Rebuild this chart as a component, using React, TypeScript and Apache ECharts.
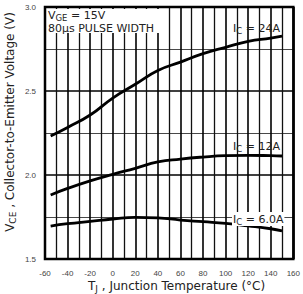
import React, { useEffect, useRef } from "react";
import * as echarts from "echarts";

// Junction temperature sample points (°C)
const temps = [-55, -40, -20, 0, 20, 40, 60, 80, 100, 120, 140, 150];
// Collector-to-emitter voltage (V) at each collector current
const vce24A = [2.232, 2.283, 2.357, 2.458, 2.54, 2.622, 2.672, 2.722, 2.76, 2.795, 2.815, 2.827];
const vce12A = [1.881, 1.92, 1.965, 2.004, 2.04, 2.078, 2.095, 2.107, 2.115, 2.117, 2.115, 2.113];
const vce6A = [1.696, 1.71, 1.724, 1.738, 1.748, 1.745, 1.732, 1.722, 1.712, 1.697, 1.68, 1.668];

const FONT = "'Liberation Sans', Arial, sans-serif";
const WIDE = "'DejaVu Sans', sans-serif";

const pairs = (ys: number[]) => temps.map((t, i) => [t, ys[i]]);

export default function App() {
  const ref = useRef<HTMLDivElement>(null);
  useEffect(() => {
    if (!ref.current) return;
    const chart = echarts.init(ref.current, null, { renderer: "svg" });
    const curve = (name: string, ys: number[]) => ({
      name,
      type: "line",
      data: pairs(ys),
      smooth: true,
      symbol: "none",
      lineStyle: { color: "#000", width: 2.8 },
      z: 5,
    });
    const subDown = { fontSize: 8.5, fontFamily: WIDE, color: "#222", padding: [5, 0, 0, 0] };
    const label = (text: string, left: number, top: number, extra: any = {}) => ({
      type: "text",
      left,
      top,
      z: 20,
      style: {
        text,
        fontSize: 11,
        fontFamily: WIDE,
        fill: "#222",
        rich: { s: { ...subDown, ...(extra.backgroundColor ? { backgroundColor: extra.backgroundColor } : {}) } },
        ...extra,
      },
    });
    const titleSub = { fontSize: 9, fontFamily: WIDE, fill: "#222", padding: [5, 0, 0, 0] };
    chart.setOption({
      animation: false,
      backgroundColor: "#fff",
      grid: {
        left: 45,
        right: 6,
        top: 7,
        bottom: 35,
        show: true,
        borderColor: "#000",
        borderWidth: 2.5,
        z: 10,
      },
      xAxis: {
        type: "value",
        min: -60,
        max: 160,
        interval: 20,
        axisLine: { show: false },
        axisTick: { show: false },
        splitLine: { show: true, lineStyle: { color: "#000", width: 1.6 } },
        minorTick: { show: false, splitNumber: 2 },
        minorSplitLine: { show: true, lineStyle: { color: "#111", width: 1.3 } },
        axisLabel: { fontSize: 8, color: "#444", fontFamily: FONT, margin: 10 },
      },
      yAxis: {
        type: "value",
        min: 1.5,
        max: 3.0,
        interval: 0.5,
        axisLine: { show: false },
        axisTick: { show: false },
        splitLine: { show: true, lineStyle: { color: "#000", width: 1.5 } },
        minorTick: { show: false, splitNumber: 2 },
        minorSplitLine: { show: true, lineStyle: { color: "#333", width: 0.9 } },
        axisLabel: {
          fontSize: 8,
          color: "#444",
          fontFamily: FONT,
          margin: 9,
          formatter: (v: number) => v.toFixed(1),
        },
      },
      series: [curve("24A", vce24A), curve("12A", vce12A), curve("6.0A", vce6A)],
      graphic: [
        // white panel behind the test-condition note
        {
          type: "rect",
          shape: { x: 47, y: 9, width: 114, height: 24 },
          style: { fill: "#fff" },
          z: 15,
        },
        label("V{s|GE} = 15V", 48, 10),
        label("80μs PULSE WIDTH", 48, 23),
        label("I{s|C} = 24A", 233, 23),
        label("I{s|C} = 12A", 233, 141),
        label("I{s|C} = 6.0A", 232, 212, { backgroundColor: "#fff", padding: [0, 1, 0, 1] }),
        {
          type: "text",
          left: 88,
          top: 280,
          z: 20,
          style: {
            text: "T{s|J} , Junction Temperature (°C)",
            fontSize: 12,
            fontFamily: WIDE,
            fill: "#222",
            rich: { s: titleSub },
          },
        },
        {
          type: "text",
          x: 3,
          y: 122,
          rotation: Math.PI / 2,
          z: 20,
          style: {
            text: "V{s|CE} , Collector-to-Emitter Voltage (V)",
            fontSize: 12,
            fontFamily: WIDE,
            fill: "#222",
            align: "center",
            verticalAlign: "top",
            rich: { s: titleSub },
          },
        },
      ],
    });
    return () => chart.dispose();
  }, []);
  return <div ref={ref} style={{ width: 303, height: 294, position: "absolute", left: 0, top: 0 }} />;
}
